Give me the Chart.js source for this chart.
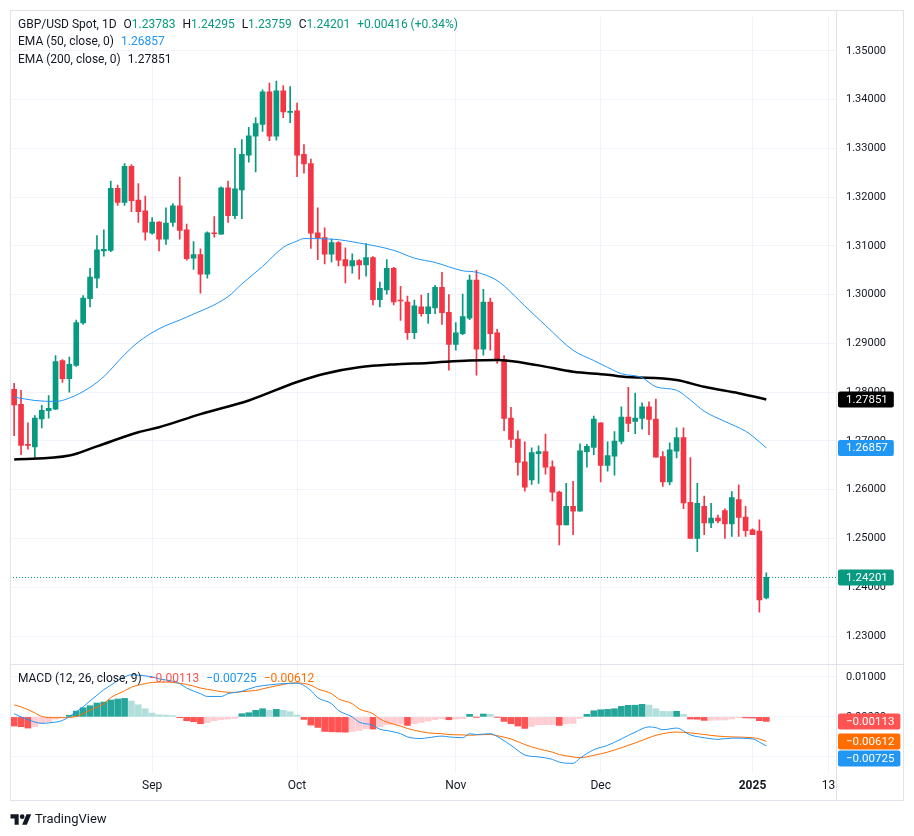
<!DOCTYPE html>
<html>
<head>
<meta charset="utf-8">
<title>GBP/USD Spot, 1D</title>
<script src="https://cdn.jsdelivr.net/npm/chart.js@4.4.1/dist/chart.umd.min.js"></script>
<style>
  body { margin: 0; background: #fff; }
  #wrap { position: relative; width: 914px; height: 836px; font-family: Roboto, "Noto Sans", sans-serif; color: #131722; }
  #wrap canvas { position: absolute; left: 0; top: 0; }
  .leg { position: absolute; left: 18px; font-size: 12px; line-height: 17px; white-space: nowrap; }
  .leg .it { margin-left: 7px; }
  .g { color: #089981; }
  .b { color: #2196F3; }
  .r { color: #FF5252; }
  .o { color: #FF6D00; }
  #foot { position: absolute; left: 10px; top: 810px; font-size: 13px; line-height: 17px; display: flex; align-items: center; }
  #foot svg { margin-right: 3px; }
</style>
</head>
<body>
<div id="wrap">
  <canvas id="chart" width="914" height="836"></canvas>
  <div class="leg" style="top:16px">GBP/USD Spot, 1D<span class="it">O<span class="g">1.23783</span></span><span class="it">H<span class="g">1.24295</span></span><span class="it">L<span class="g">1.23759</span></span><span class="it">C<span class="g">1.24201</span></span><span class="it g">+0.00416 (+0.34%)</span></div>
  <div class="leg" style="top:33px">EMA (50, close, 0)<span class="it b">1.26857</span></div>
  <div class="leg" style="top:51px">EMA (200, close, 0)<span class="it">1.27851</span></div>
  <div class="leg" style="top:670px">MACD (12, 26, close, 9)<span class="it r">&minus;0.00113</span><span class="it b">&minus;0.00725</span><span class="it o">&minus;0.00612</span></div>
  <div id="foot"><svg width="22" height="14" viewBox="0 0 36 24"><path fill="#131722" d="M14 22H7V11H0V4h14v18zM28 22h-8l7.5-18h8L28 22z"/><circle fill="#131722" cx="20" cy="8" r="4"/></svg>TradingView</div>
</div>
<script>
// daily bars, Aug 5 2024 .. Jan 3 2025
const dates = [
  '2024-08-05','2024-08-06','2024-08-07','2024-08-08','2024-08-09','2024-08-12','2024-08-13','2024-08-14','2024-08-15','2024-08-16',
  '2024-08-19','2024-08-20','2024-08-21','2024-08-22','2024-08-23','2024-08-26','2024-08-27','2024-08-28','2024-08-29','2024-08-30',
  '2024-09-02','2024-09-03','2024-09-04','2024-09-05','2024-09-06','2024-09-09','2024-09-10','2024-09-11','2024-09-12','2024-09-13',
  '2024-09-16','2024-09-17','2024-09-18','2024-09-19','2024-09-20','2024-09-23','2024-09-24','2024-09-25','2024-09-26','2024-09-27',
  '2024-09-30','2024-10-01','2024-10-02','2024-10-03','2024-10-04','2024-10-07','2024-10-08','2024-10-09','2024-10-10','2024-10-11',
  '2024-10-14','2024-10-15','2024-10-16','2024-10-17','2024-10-18','2024-10-21','2024-10-22','2024-10-23','2024-10-24','2024-10-25',
  '2024-10-28','2024-10-29','2024-10-30','2024-10-31','2024-11-01','2024-11-04','2024-11-05','2024-11-06','2024-11-07','2024-11-08',
  '2024-11-11','2024-11-12','2024-11-13','2024-11-14','2024-11-15','2024-11-18','2024-11-19','2024-11-20','2024-11-21','2024-11-22',
  '2024-11-25','2024-11-26','2024-11-27','2024-11-28','2024-11-29','2024-12-02','2024-12-03','2024-12-04','2024-12-05','2024-12-06',
  '2024-12-09','2024-12-10','2024-12-11','2024-12-12','2024-12-13','2024-12-16','2024-12-17','2024-12-18','2024-12-19','2024-12-20',
  '2024-12-23','2024-12-24','2024-12-25','2024-12-26','2024-12-27','2024-12-30','2024-12-31','2025-01-01','2025-01-02','2025-01-03'
];
const opens = [
  1.2806,1.2775,1.2692,1.2688,1.2745,1.2762,1.2765,1.2865,1.2828,1.2855,
  1.2942,1.2992,1.3034,1.3090,1.3091,1.3218,1.3189,1.3263,1.3194,1.3172,
  1.3126,1.3149,1.3114,1.3148,1.3182,1.3133,1.3075,1.3082,1.3042,1.3126,
  1.3124,1.3219,1.3162,1.3215,1.3286,1.3325,1.3349,1.3416,1.3325,1.3418,
  1.3374,1.3377,1.3288,1.3269,1.3127,1.3117,1.3083,1.3107,1.3072,1.3059,
  1.3070,1.3061,1.3076,1.2990,1.3010,1.3054,1.2988,1.2985,1.2922,1.2975,
  1.2961,1.2973,1.3015,1.2964,1.2898,1.2920,1.2952,1.3030,1.2888,1.2985,
  1.2922,1.2867,1.2747,1.2704,1.2657,1.2620,1.2674,1.2678,1.2647,1.2595,
  1.2528,1.2566,1.2556,1.2678,1.2687,1.2737,1.2650,1.2669,1.2699,1.2749,
  1.2740,1.2746,1.2770,1.2745,1.2668,1.2616,1.2679,1.2707,1.2574,1.2500,
  1.2566,1.2532,1.2542,1.2557,1.2530,1.2580,1.2544,1.2518,1.2515,1.23783
];
const highs = [
  1.2818,1.2804,1.2737,1.2752,1.2773,1.2793,1.2875,1.2867,1.2872,1.2948,
  1.2998,1.3054,1.3121,1.3133,1.3233,1.3225,1.3269,1.3267,1.3228,1.3202,
  1.3158,1.3150,1.3178,1.3187,1.3241,1.3145,1.3109,1.3094,1.3129,1.3160,
  1.3221,1.3233,1.3300,1.3318,1.3343,1.3363,1.3420,1.3434,1.3438,1.3429,
  1.3427,1.3393,1.3308,1.3278,1.3178,1.3137,1.3114,1.3109,1.3096,1.3084,
  1.3072,1.3105,1.3078,1.3026,1.3072,1.3056,1.3017,1.2997,1.2989,1.2999,
  1.3003,1.3019,1.3046,1.3000,1.2943,1.3001,1.3040,1.3050,1.3011,1.2993,
  1.2929,1.2875,1.2769,1.2721,1.2698,1.2686,1.2690,1.2714,1.2659,1.2597,
  1.2613,1.2617,1.2694,1.2693,1.2751,1.2737,1.2698,1.2719,1.2770,1.2810,
  1.2798,1.2778,1.2780,1.2786,1.2678,1.2696,1.2727,1.2727,1.2666,1.2613,
  1.2587,1.2572,1.2548,1.2561,1.2596,1.2610,1.2566,1.2520,1.2538,1.24295
];
const lows = [
  1.2711,1.2672,1.2683,1.2666,1.2727,1.2747,1.2764,1.2820,1.2800,1.2853,
  1.2939,1.2975,1.3014,1.3079,1.3088,1.3183,1.3183,1.3170,1.3148,1.3112,
  1.3124,1.3090,1.3103,1.3140,1.3114,1.3071,1.3052,1.3003,1.3034,1.3118,
  1.3124,1.3148,1.3156,1.3156,1.3272,1.3252,1.3335,1.3316,1.3317,1.3363,
  1.3353,1.3242,1.3249,1.3095,1.3072,1.3063,1.3067,1.3059,1.3024,1.3044,
  1.3032,1.3038,1.2979,1.2975,1.3001,1.2979,1.2947,1.2908,1.2910,1.2956,
  1.2941,1.2961,1.2939,1.2845,1.2886,1.2918,1.2949,1.2835,1.2876,1.2886,
  1.2859,1.2721,1.2687,1.2630,1.2597,1.2611,1.2613,1.2632,1.2577,1.2487,
  1.2528,1.2508,1.2556,1.2646,1.2672,1.2616,1.2638,1.2630,1.2694,1.2719,
  1.2715,1.2724,1.2713,1.2667,1.2607,1.2610,1.2665,1.2561,1.2500,1.2473,
  1.2508,1.2522,1.2532,1.2500,1.2504,1.2504,1.2504,1.2508,1.2349,1.23759
];
const closes = [
  1.2774,1.2691,1.2691,1.2747,1.2763,1.2767,1.2863,1.2828,1.2857,1.2943,
  1.2993,1.3036,1.3092,1.3093,1.3218,1.3189,1.3263,1.3193,1.3170,1.3128,
  1.3149,1.3114,1.3147,1.3182,1.3132,1.3074,1.3082,1.3042,1.3127,1.3125,
  1.3219,1.3162,1.3217,1.3288,1.3326,1.3351,1.3416,1.3325,1.3418,1.3375,
  1.3376,1.3286,1.3268,1.3126,1.3116,1.3083,1.3107,1.3071,1.3059,1.3070,
  1.3061,1.3076,1.2990,1.3013,1.3054,1.2985,1.2987,1.2922,1.2977,1.2961,
  1.2975,1.3015,1.2963,1.2898,1.2922,1.2955,1.3030,1.2888,1.2985,1.2920,
  1.2866,1.2746,1.2703,1.2656,1.2605,1.2676,1.2678,1.2646,1.2595,1.2528,
  1.2566,1.2556,1.2680,1.2689,1.2745,1.2650,1.2670,1.2700,1.2749,1.2736,
  1.2747,1.2770,1.2744,1.2667,1.2616,1.2682,1.2707,1.2573,1.2500,1.2572,
  1.2532,1.2542,1.2536,1.2530,1.2584,1.2543,1.2516,1.2508,1.2374,1.24201
];

// moving averages at some bars (bar index, value)
const ema50Idx = [0,3,6,8,11,13,16,18,21,25,31,33,36,39,41,42,46,50,55,58,61,65,67,70,71,74,77,81,84,86,88,91,93,96,98,100,103,106,107,109];
const ema50Val = [1.2790,1.2783,1.2781,1.2788,1.2810,1.2832,1.2877,1.2903,1.2930,1.2954,1.2996,1.3022,1.3058,1.3097,1.3110,1.3115,1.3114,1.3106,1.3091,1.3075,1.3066,1.3049,1.3046,1.3029,1.3018,1.2977,1.2937,1.2886,1.2865,1.2851,1.2838,1.2830,1.2811,1.2804,1.2784,1.2761,1.2740,1.2720,1.2710,1.26857];
const ema200Idx = [0,8,12,18,21,27,34,41,45,50,55,60,66,70,76,81,86,88,96,100,105,109];
const ema200Val = [1.2662,1.2670,1.2689,1.2718,1.2728,1.2755,1.2783,1.2821,1.2838,1.2851,1.2857,1.2860,1.2865,1.2866,1.2855,1.2842,1.2836,1.2832,1.2825,1.2811,1.2798,1.27851];

// MACD (12, 26, 9)
const macdIdx = [0,1,3,4,5,7,8,10,11,12,13,14,15,16,17,18,20,21,23,24,25,27,28,30,31,33,35,37,39,41,43,44,46,47,49,50,52,53,54,56,57,59,60,62,63,65,66,67,69,70,72,74,76,78,79,81,82,84,86,88,90,92,93,94,96,98,100,102,104,107,108,109];
const macdVal = [0.0008,0.0000,-0.0013,-0.0016,-0.0015,-0.0009,0.0001,0.0025,0.0040,0.0054,
  0.0068,0.0079,0.0091,0.0100,0.0105,0.0104,0.0100,0.0095,0.0089,0.0083,
  0.0072,0.0058,0.0051,0.0051,0.0058,0.0064,0.0075,0.0080,0.0083,0.0084,
  0.0066,0.0048,0.0033,0.0016,0.0000,-0.0013,-0.0021,-0.0031,-0.0034,-0.0042,
  -0.0050,-0.0054,-0.0052,-0.0048,-0.0050,-0.0052,-0.0042,-0.0044,-0.0042,-0.0049,
  -0.0071,-0.0095,-0.0100,-0.0106,-0.0113,-0.0116,-0.0103,-0.0082,-0.0071,-0.0055,
  -0.0038,-0.0025,-0.0027,-0.0032,-0.0028,-0.0045,-0.0052,-0.0056,-0.0053,-0.0055,
  -0.0063,-0.00725];
const signalIdx = [0,1,3,4,6,7,9,10,11,13,14,16,17,19,20,22,23,24,26,27,29,30,32,33,35,36,37,39,40,41,43,44,46,47,49,50,52,53,54,56,57,59,60,62,63,65,66,67,69,70,72,74,76,78,79,81,82,84,86,88,90,92,93,95,96,98,100,102,104,107,108,109];
const signalVal = [0.0030,0.0025,0.0010,0.0001,-0.0002,-0.0002,0.0001,0.0008,0.0017,0.0033,
  0.0048,0.0065,0.0074,0.0083,0.0086,0.0087,0.0086,0.0084,0.0077,0.0072,
  0.0066,0.0063,0.0061,0.0063,0.0066,0.0070,0.0074,0.0081,0.0084,0.0085,
  0.0079,0.0070,0.0058,0.0045,0.0033,0.0020,0.0008,-0.0005,-0.0013,-0.0023,
  -0.0029,-0.0037,-0.0040,-0.0042,-0.0044,-0.0045,-0.0046,-0.0045,-0.0044,-0.0047,
  -0.0055,-0.0069,-0.0080,-0.0088,-0.0094,-0.0100,-0.0102,-0.0096,-0.0088,-0.0077,
  -0.0065,-0.0052,-0.0046,-0.0039,-0.0038,-0.0040,-0.0044,-0.0048,-0.0050,-0.0052,
  -0.0055,-0.00612];
const hist = [
  -0.00229,-0.00246,-0.00279,-0.00246,-0.00171,-0.00129,-0.00054,-0.00020,0.00040,0.00146,
  0.00229,0.00279,0.00346,0.00371,0.00421,0.00446,0.00462,0.00396,0.00304,0.00204,
  0.00096,0.00054,0.00046,0.00030,-0.00020,-0.00096,-0.00121,-0.00171,-0.00146,-0.00096,
  -0.00071,-0.00054,-0.00038,0.00079,0.00104,0.00163,0.00204,0.00163,0.00188,0.00163,
  0.00129,0.00046,-0.00063,-0.00204,-0.00263,-0.00363,-0.00372,-0.00378,-0.00382,-0.00363,
  -0.00338,-0.00296,-0.00304,-0.00250,-0.00196,-0.00188,-0.00180,-0.00213,-0.00171,-0.00138,
  -0.00104,-0.00071,-0.00046,-0.00071,-0.00054,-0.00046,0.00063,-0.00004,0.00072,0.00066,
  -0.00004,-0.00113,-0.00171,-0.00229,-0.00288,-0.00238,-0.00196,-0.00194,-0.00192,-0.00213,
  -0.00171,-0.00163,-0.00038,0.00063,0.00154,0.00179,0.00188,0.00204,0.00263,0.00288,
  0.00292,0.00313,0.00296,0.00204,0.00138,0.00134,0.00140,0.00063,-0.00054,-0.00058,
  -0.00088,-0.00085,-0.00083,-0.00075,-0.00050,-0.00020,-0.00025,-0.00030,-0.00095,-0.00113
];

const priceTicks = [1.23,1.24,1.25,1.26,1.27,1.28,1.29,1.30,1.31,1.32,1.33,1.34,1.35];
const macdTicks = [0.01, 0, -0.01];
const timeTickIdx = [20, 41, 64, 85, 107, 118];
const timeTickLabels = ['Sep', 'Oct', 'Nov', 'Dec', '2025', '13'];

const UP = '#089981', DOWN = '#F23645';
const GRID = '#f0f3fa', LINE = '#e0e3eb';
const FONT = 'Roboto, "Noto Sans", sans-serif';

const candleColor = dates.map((d, i) => closes[i] >= opens[i] ? UP : DOWN);
const histColor = hist.map((v, i) => {
  const prev = i > 0 ? hist[i - 1] : v + 1;
  if (v >= 0) return prev < v ? '#26A69A' : '#B2DFDB';
  return prev < v ? '#FFCDD2' : '#FF5252';
});

function pts(idx, vals) {
  return idx.map((x, k) => ({ x: x, y: vals[k] }));
}
function fmt(v) {
  return v.toFixed(5).replace('-', '\u2212');
}

function tag(ctx, x, yPix, text, bg) {
  ctx.font = '11.5px ' + FONT;
  const w = ctx.measureText(text).width + 14;
  ctx.fillStyle = bg;
  ctx.beginPath();
  ctx.roundRect(x, yPix - 8, w, 16, 2);
  ctx.fill();
  ctx.fillStyle = '#fff';
  ctx.textBaseline = 'middle';
  ctx.textAlign = 'left';
  ctx.fillText(text, x + 8, yPix + 0.5);
}

const decor = {
  id: 'decor',
  beforeDatasetsDraw(chart) {
    const { ctx, chartArea, scales } = chart;
    const py = Math.round(scales.y.getPixelForValue(closes[closes.length - 1])) + 0.5;
    ctx.save();
    ctx.strokeStyle = UP;
    ctx.lineWidth = 1;
    ctx.setLineDash([1, 2]);
    ctx.beginPath();
    ctx.moveTo(chartArea.left, py);
    ctx.lineTo(chartArea.right, py);
    ctx.stroke();
    ctx.restore();
  },
  afterDraw(chart) {
    const { ctx, chartArea, scales } = chart;
    ctx.save();
    ctx.strokeStyle = LINE;
    ctx.lineWidth = 1;
    ctx.strokeRect(10.5, 10.5, 893, 790);
    ctx.beginPath();
    ctx.moveTo(chartArea.right + 0.5, 10);
    ctx.lineTo(chartArea.right + 0.5, 800);
    const sep = Math.round(scales.y.bottom) + 0.5;
    ctx.moveTo(10, sep);
    ctx.lineTo(903, sep);
    ctx.stroke();

    const bx = chartArea.right + 2;
    // price scale tags
    const last = closes.length - 1;
    tag(ctx, bx, scales.y.getPixelForValue(ema200Val[ema200Val.length - 1]), ema200Val[ema200Val.length - 1].toFixed(5), '#000000');
    tag(ctx, bx, scales.y.getPixelForValue(ema50Val[ema50Val.length - 1]), ema50Val[ema50Val.length - 1].toFixed(5), '#2196F3');
    tag(ctx, bx, scales.y.getPixelForValue(closes[last]), closes[last].toFixed(5), UP);

    // macd scale tags, pushed apart when they overlap
    const mt = [
      { v: hist[last], c: '#FF5252' },
      { v: signalVal[signalVal.length - 1], c: '#FF6D00' },
      { v: macdVal[macdVal.length - 1], c: '#2196F3' }
    ].map(t => ({ ...t, p: scales.ym.getPixelForValue(t.v) })).sort((a, b) => a.p - b.p);
    let prev = -1e9;
    mt.forEach(t => {
      const p = Math.max(t.p, prev + 17);
      tag(ctx, bx, p, fmt(t.v), t.c);
      prev = p;
    });
    ctx.restore();
  }
};

new Chart(document.getElementById('chart'), {
  type: 'bar',
  data: {
    datasets: [
      {
        type: 'line', label: 'EMA 50', data: pts(ema50Idx, ema50Val), yAxisID: 'y',
        borderColor: '#2196F3', borderWidth: 1, pointRadius: 0, cubicInterpolationMode: 'monotone', order: 0
      },
      {
        type: 'line', label: 'EMA 200', data: pts(ema200Idx, ema200Val), yAxisID: 'y',
        borderColor: '#000000', borderWidth: 2.5, pointRadius: 0, cubicInterpolationMode: 'monotone', order: 0
      },
      {
        label: 'body', data: dates.map((d, i) => ({ x: i, y: [opens[i], closes[i]] })), yAxisID: 'y',
        backgroundColor: candleColor, barThickness: 5, minBarLength: 1, grouped: false, order: 2
      },
      {
        label: 'wick', data: dates.map((d, i) => ({ x: i, y: [lows[i], highs[i]] })), yAxisID: 'y',
        backgroundColor: candleColor, barThickness: 1, grouped: false, order: 3
      },
      {
        type: 'line', label: 'MACD', data: pts(macdIdx, macdVal), yAxisID: 'ym',
        borderColor: '#2196F3', borderWidth: 1, pointRadius: 0, cubicInterpolationMode: 'monotone', order: 0
      },
      {
        type: 'line', label: 'Signal', data: pts(signalIdx, signalVal), yAxisID: 'ym',
        borderColor: '#FF6D00', borderWidth: 1, pointRadius: 0, cubicInterpolationMode: 'monotone', order: 0
      },
      {
        label: 'Histogram', data: hist.map((v, i) => ({ x: i, y: v })), yAxisID: 'ym',
        backgroundColor: histColor, barThickness: 6, grouped: false, order: 4
      }
    ]
  },
  options: {
    responsive: false,
    animation: false,
    layout: { autoPadding: false, padding: { left: 10, right: 10, top: 10, bottom: 36 } },
    plugins: { legend: { display: false }, tooltip: { enabled: false } },
    scales: {
      x: {
        type: 'linear', min: -0.6, max: 119.1, offset: false,
        grid: { color: GRID, drawTicks: false, offset: false },
        border: { display: false },
        afterBuildTicks: s => { s.ticks = timeTickIdx.map(v => ({ value: v })); },
        afterFit: s => { s.height = 28; },
        ticks: {
          autoSkip: false, maxRotation: 0, padding: 7, color: '#131722',
          font: c => ({ family: FONT, size: 12, weight: timeTickLabels[c.index] === '2025' ? 'bold' : 'normal' }),
          callback: (v, i) => timeTickLabels[i]
        }
      },
      y: {
        type: 'linear', position: 'right', stack: 'panes', stackWeight: 653,
        min: 1.22427, max: 1.35703,
        grid: { color: GRID, drawTicks: false },
        border: { display: false },
        afterBuildTicks: s => { s.ticks = priceTicks.map(v => ({ value: v })); },
        afterFit: s => { s.width = 68; },
        ticks: { padding: 10, color: '#131722', font: { family: FONT, size: 11 }, callback: v => v.toFixed(5) }
      },
      ym: {
        type: 'linear', position: 'right', stack: 'panes', stackWeight: 109,
        min: -0.01376, max: 0.01322,
        grid: { color: GRID, drawTicks: false },
        border: { display: false },
        afterBuildTicks: s => { s.ticks = macdTicks.map(v => ({ value: v })); },
        afterFit: s => { s.width = 68; },
        ticks: { padding: 10, color: '#131722', font: { family: FONT, size: 11 }, callback: v => fmt(v) }
      }
    }
  },
  plugins: [decor]
});
</script>
</body>
</html>
